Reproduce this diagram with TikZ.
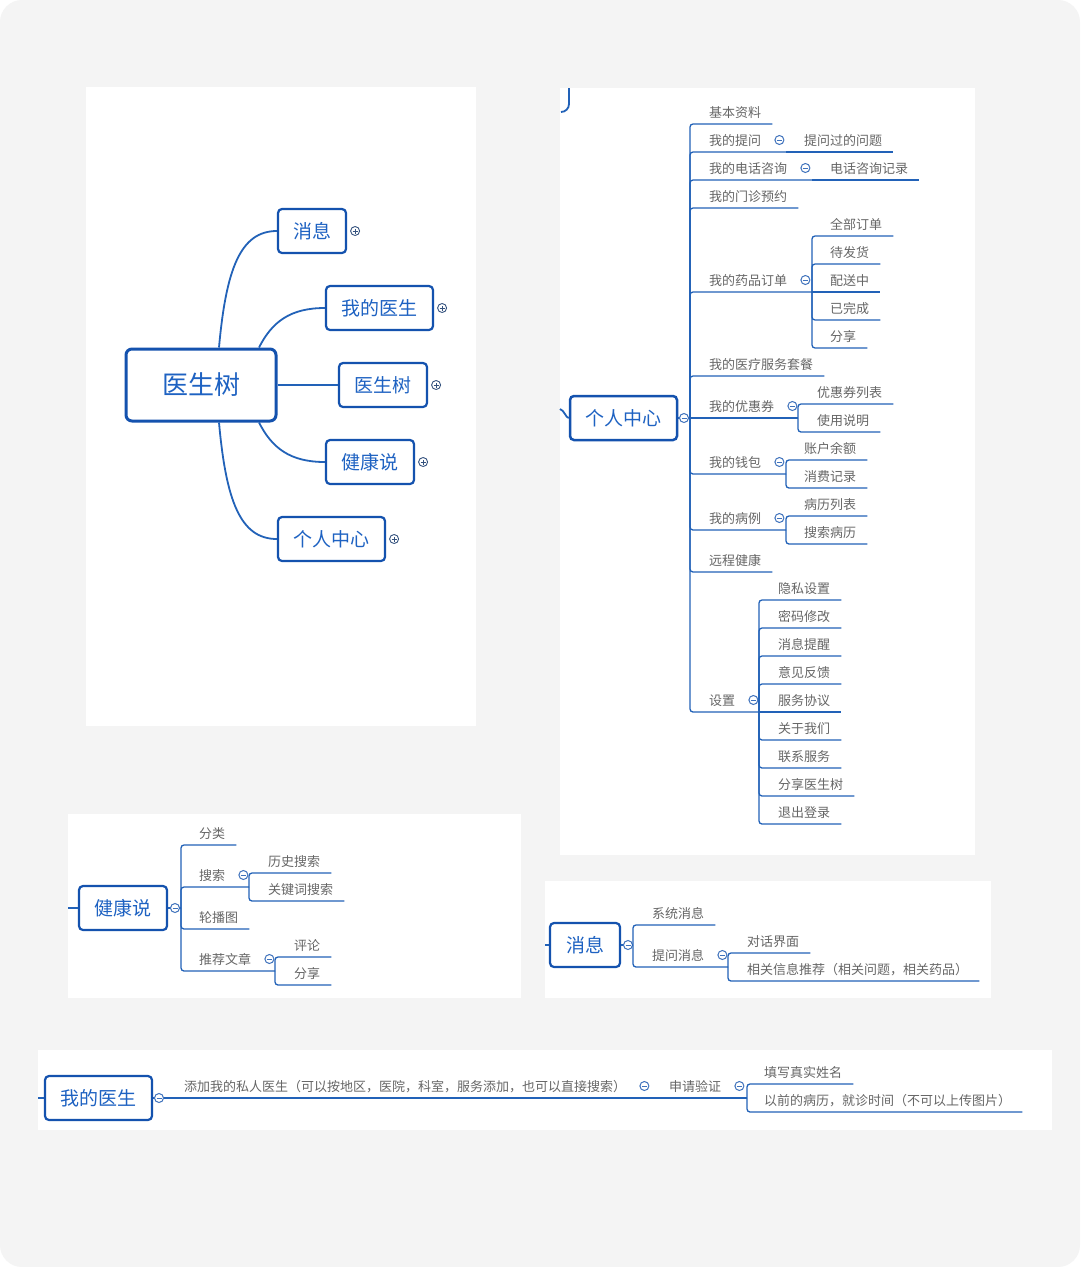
\documentclass[tikz,border=0pt]{standalone}
\usepackage{fontspec}
\newfontfamily\cjk{Noto Sans CJK SC}
\definecolor{bgc}{HTML}{F4F4F4}
\definecolor{nodeb}{HTML}{1452AE}
\definecolor{nodet}{HTML}{1E62C2}
\definecolor{linec}{HTML}{2262B8}
\definecolor{lblc}{HTML}{666666}
\definecolor{circc}{HTML}{3F72BC}
\definecolor{plusc}{HTML}{34527E}
\begin{document}
\begin{tikzpicture}[x=1pt,y=-1pt,
  mbox/.style={draw=nodeb, line width=2.2pt, rounded corners=4pt, fill=white, text=nodet,
     font=\cjk\fontsize{19}{19}\selectfont, minimum height=44pt, inner sep=0pt},
  rootbox/.style={mbox, line width=3pt, rounded corners=6pt, minimum height=72pt, minimum width=150pt,
     font=\cjk\fontsize{26}{26}\selectfont},
  lbl/.style={anchor=west, inner sep=0pt, text=lblc, font=\cjk\fontsize{13}{13}\selectfont,
     text height=12.4pt, text depth=0.6pt},
  conn/.style={draw=linec, line width=1.3pt, rounded corners=3pt},
  curve/.style={draw=linec, line width=1.8pt},
  colps/.style={circle, draw=circc, line width=1pt, fill=white, minimum size=9pt, inner sep=0pt,
     path picture={\draw[circc, line width=1pt] ([xshift=-2.5pt]path picture bounding box.center) -- ([xshift=2.5pt]path picture bounding box.center);}},
  expd/.style={circle, draw=plusc, line width=0.9pt, fill=white, minimum size=9pt, inner sep=0pt,
     path picture={\draw[plusc, line width=0.9pt] ([xshift=-2.5pt]path picture bounding box.center) -- ([xshift=2.5pt]path picture bounding box.center) ([yshift=-2.5pt]path picture bounding box.center) -- ([yshift=2.5pt]path picture bounding box.center);}}
]
\useasboundingbox (0,0) rectangle (1080,1267);
\fill[white] (0,0) rectangle (1080,1267);
\fill[bgc, rounded corners=22pt] (0,0) rectangle (1080,1267);
% panels
\fill[white] (86,87) rectangle (476,726);
\fill[white] (560,88) rectangle (975,855);
\fill[white] (68,814) rectangle (521,998);
\fill[white] (545,881) rectangle (991,998);
\fill[white] (38,1050) rectangle (1052,1130);

%% ---------- top-left overview ----------
\node[rootbox] (root) at (201,385) {医生树};
\node[mbox, minimum width=68pt] (n1) at (312,231) {消息};
\node[mbox, minimum width=107pt] (n2) at (379.5,308) {我的医生};
\node[mbox, minimum width=88pt] (n3) at (383,385) {医生树};
\node[mbox, minimum width=88pt] (n4) at (370,462) {健康说};
\node[mbox, minimum width=107pt] (n5) at (331.5,539) {个人中心};
\draw[curve] ([xshift=18pt]root.north) .. controls (226,270) and (240,231) .. (n1.west);
\draw[curve] ([xshift=58pt]root.north) .. controls (272,322) and (290,308) .. (n2.west);
\draw[curve] (root.east) -- (n3.west);
\draw[curve] ([xshift=58pt]root.south) .. controls (272,448) and (290,462) .. (n4.west);
\draw[curve] ([xshift=18pt]root.south) .. controls (226,500) and (240,539) .. (n5.west);
\node[expd] (e1) at ([xshift=8pt]n1.east) {};
\node[expd] (e2) at ([xshift=8pt]n2.east) {};
\node[expd] (e3) at ([xshift=8pt]n3.east) {};
\node[expd] (e4) at ([xshift=8pt]n4.east) {};
\node[expd] (e5) at ([xshift=8pt]n5.east) {};

%% ---------- right: 个人中心 ----------
\node[mbox, minimum width=107pt, line width=2.5pt] (pc) at (623.5,418) {个人中心};
\draw[curve] (560,409) .. controls (564,410) and (566,418) .. (pc.west);
\draw[curve] (569,88) -- (569,104) to[out=-90,in=0] (561,112);
\coordinate (J) at (690,418);
\draw[conn] (pc.east) -- (J);
\node[colps] (pcx) at (684,418) {};

\node[lbl] (a1) at (709,112) {基本资料};
\draw[conn] (J) |- ([shift={(11,12)}]a1.east);
% 我的提问
\node[lbl] (a2) at (709,140) {我的提问};
\coordinate (K2) at (786,152);
\draw[conn] (J) |- (K2);
\node[colps] (a2x) at ([xshift=18pt]a2.east) {};
\node[lbl] (b21) at (804,140) {提问过的问题};
\draw[conn] (K2) -- ([shift={(11,12)}]b21.east);
% 我的电话咨询
\node[lbl] (a3) at (709,168) {我的电话咨询};
\coordinate (K3) at (812,180);
\draw[conn] (J) |- (K3);
\node[colps] (a3x) at ([xshift=18pt]a3.east) {};
\node[lbl] (b31) at (830,168) {电话咨询记录};
\draw[conn] (K3) -- ([shift={(11,12)}]b31.east);
% 我的门诊预约
\node[lbl] (a4) at (709,196) {我的门诊预约};
\draw[conn] (J) |- ([shift={(11,12)}]a4.east);
% 我的药品订单
\node[lbl] (a5) at (709,280) {我的药品订单};
\coordinate (K5) at (812,292);
\draw[conn] (J) |- (K5);
\node[colps] (a5x) at ([xshift=18pt]a5.east) {};
\node[lbl] (d1) at (830,224) {全部订单};
\node[lbl] (d2) at (830,252) {待发货};
\node[lbl] (d3) at (830,280) {配送中};
\node[lbl] (d4) at (830,308) {已完成};
\node[lbl] (d5) at (830,336) {分享};
\draw[conn] (K5) |- ([shift={(11,12)}]d1.east);
\draw[conn] (K5) |- ([shift={(11,12)}]d2.east);
\draw[conn] (K5) -- ([shift={(11,12)}]d3.east);
\draw[conn] (K5) |- ([shift={(11,12)}]d4.east);
\draw[conn] (K5) |- ([shift={(11,12)}]d5.east);
% 我的医疗服务套餐
\node[lbl] (a6) at (709,364) {我的医疗服务套餐};
\draw[conn] (J) |- ([shift={(11,12)}]a6.east);
% 我的优惠券
\node[lbl] (a7) at (709,406) {我的优惠券};
\coordinate (K7) at (798,418);
\draw[conn] (J) -- (K7);
\node[colps] (a7x) at ([xshift=18pt]a7.east) {};
\node[lbl] (f1) at (817,392) {优惠券列表};
\node[lbl] (f2) at (817,420) {使用说明};
\draw[conn] (K7) |- ([shift={(11,12)}]f1.east);
\draw[conn] (K7) |- ([shift={(11,12)}]f2.east);
% 我的钱包
\node[lbl] (a8) at (709,462) {我的钱包};
\coordinate (K8) at (786,474);
\draw[conn] (J) |- (K8);
\node[colps] (a8x) at ([xshift=18pt]a8.east) {};
\node[lbl] (g1) at (804,448) {账户余额};
\node[lbl] (g2) at (804,476) {消费记录};
\draw[conn] (K8) |- ([shift={(11,12)}]g1.east);
\draw[conn] (K8) |- ([shift={(11,12)}]g2.east);
% 我的病例
\node[lbl] (a9) at (709,518) {我的病例};
\coordinate (K9) at (786,530);
\draw[conn] (J) |- (K9);
\node[colps] (a9x) at ([xshift=18pt]a9.east) {};
\node[lbl] (h1) at (804,504) {病历列表};
\node[lbl] (h2) at (804,532) {搜索病历};
\draw[conn] (K9) |- ([shift={(11,12)}]h1.east);
\draw[conn] (K9) |- ([shift={(11,12)}]h2.east);
% 远程健康
\node[lbl] (a10) at (709,560) {远程健康};
\draw[conn] (J) |- ([shift={(11,12)}]a10.east);
% 设置
\node[lbl] (a11) at (709,700) {设置};
\coordinate (K11) at (759,712);
\draw[conn] (J) |- (K11);
\node[colps] (a11x) at ([xshift=18pt]a11.east) {};
\foreach \lab [count=\i] in {隐私设置,密码修改,消息提醒,意见反馈} {
  \node[lbl] (s\i) at (778,{560+28*\i}) {\lab};
  \draw[conn] (K11) |- ([shift={(11,12)}]s\i.east);
}
\node[lbl] (s5) at (778,700) {服务协议};
\draw[conn] (K11) -- ([shift={(11,12)}]s5.east);
\foreach \lab [count=\i from 6] in {关于我们,联系服务,分享医生树,退出登录} {
  \node[lbl] (s\i) at (778,{560+28*\i}) {\lab};
  \draw[conn] (K11) |- ([shift={(11,12)}]s\i.east);
}

%% ---------- bottom-left: 健康说 ----------
\node[mbox, minimum width=88pt] (hs) at (123,908) {健康说};
\draw[conn] (68,908) -- (hs.west);
\coordinate (JH) at (181,908);
\draw[conn] (hs.east) -- (JH);
\node[colps] (hsx) at (175,908) {};
\node[lbl] (k1) at (199,833) {分类};
\draw[conn] (JH) |- ([shift={(11,12)}]k1.east);
\node[lbl] (k2) at (199,875) {搜索};
\coordinate (KH2) at (249,887);
\draw[conn] (JH) |- (KH2);
\node[colps] (k2x) at ([xshift=18pt]k2.east) {};
\node[lbl] (k21) at (268,861) {历史搜索};
\node[lbl] (k22) at (268,889) {关键词搜索};
\draw[conn] (KH2) |- ([shift={(11,12)}]k21.east);
\draw[conn] (KH2) |- ([shift={(11,12)}]k22.east);
\node[lbl] (k3) at (199,917) {轮播图};
\draw[conn] (JH) |- ([shift={(11,12)}]k3.east);
\node[lbl] (k4) at (199,959) {推荐文章};
\coordinate (KH4) at (275,971);
\draw[conn] (JH) |- (KH4);
\node[colps] (k4x) at ([xshift=18pt]k4.east) {};
\node[lbl] (k41) at (294,945) {评论};
\node[lbl] (k42) at (294,973) {分享};
\draw[conn] (KH4) |- ([shift={(11,12)}]k41.east);
\draw[conn] (KH4) |- ([shift={(11,12)}]k42.east);

%% ---------- bottom-right: 消息 ----------
\node[mbox, minimum width=70pt] (xx) at (585,945) {消息};
\draw[conn] (545,945) -- (xx.west);
\coordinate (JX) at (633,945);
\draw[conn] (xx.east) -- (JX);
\node[colps] (xxc) at (628,945) {};
\node[lbl] (x1) at (652,913) {系统消息};
\draw[conn] (JX) |- ([shift={(11,12)}]x1.east);
\node[lbl] (x2) at (652,955) {提问消息};
\coordinate (KX2) at (728,967);
\draw[conn] (JX) |- (KX2);
\node[colps] (x2x) at ([xshift=18pt]x2.east) {};
\node[lbl] (x21) at (747,941) {对话界面};
\node[lbl] (x22) at (747,969) {相关信息推荐（相关问题，相关药品）};
\draw[conn] (KX2) |- ([shift={(11,12)}]x21.east);
\draw[conn] (KX2) |- ([shift={(11,12)}]x22.east);

%% ---------- bottom strip: 我的医生 ----------
\node[mbox, minimum width=107pt] (ys) at (98.5,1098) {我的医生};
\draw[conn] (38,1098) -- (ys.west);
\coordinate (KY) at (747,1098);
\draw[conn] (ys.east) -- (KY);
\node[colps] (ysx) at (159,1098) {};
\node[lbl] (m1) at (184,1086) {添加我的私人医生（可以按地区，医院，科室，服务添加，也可以直接搜索）};
\node[colps] (m1x) at ([xshift=18pt]m1.east) {};
\node[lbl] (m2) at (669,1086) {申请验证};
\node[colps] (m2x) at ([xshift=18pt]m2.east) {};
\node[lbl] (m21) at (764,1072) {填写真实姓名};
\node[lbl] (m22) at (764,1100) {以前的病历，就诊时间（不可以上传图片）};
\draw[conn] (KY) |- ([shift={(11,12)}]m21.east);
\draw[conn] (KY) |- ([shift={(11,12)}]m22.east);
\end{tikzpicture}
\end{document}
